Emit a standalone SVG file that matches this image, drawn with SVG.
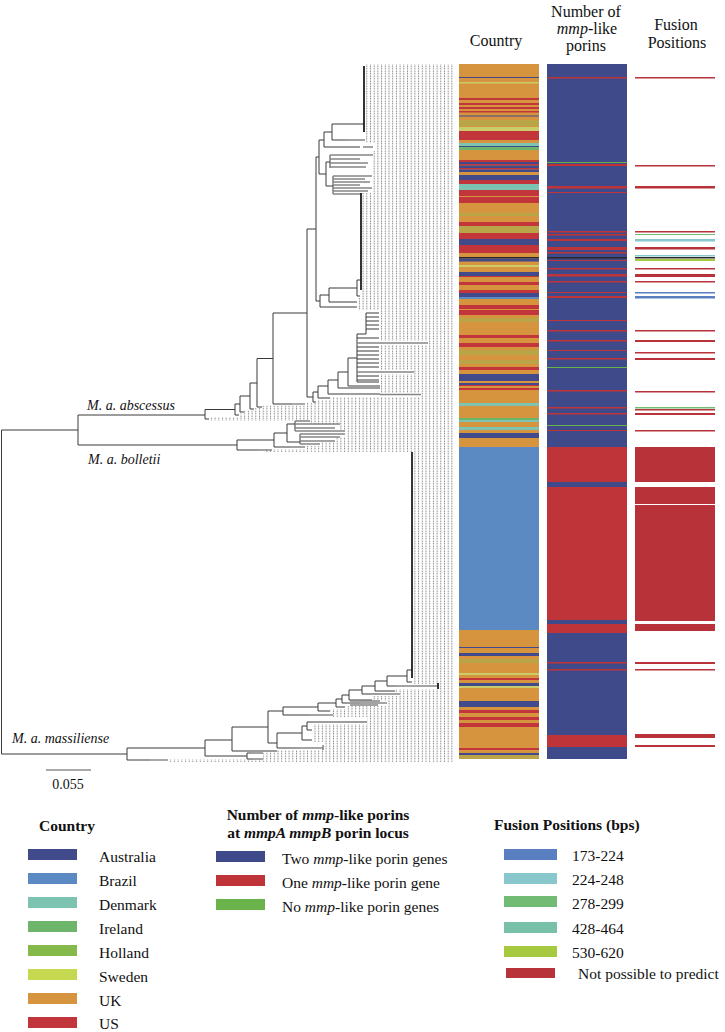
<svg xmlns="http://www.w3.org/2000/svg" width="725" height="1032" viewBox="0 0 725 1032">
<style>
text{font-family:"Liberation Serif","Times New Roman",serif;fill:#111}
.h{font-size:16px;text-anchor:middle}
.lab{font-size:14px;font-style:italic}
.lg{font-size:15.5px}
.lb{font-size:15.5px;font-weight:bold}
.e{stroke:#3a3a3a;stroke-width:1;fill:none}
.g{stroke:#858585;stroke-width:1.4;fill:none}
.p{stroke:#111;stroke-width:1.7;fill:none}
.U{fill:#d6943f}.R{fill:#c1353b}.A{fill:#414b8b}.B{fill:#5b89c2}.D{fill:#7cc3b2}.I{fill:#6db56a}.H{fill:#85b94a}.S{fill:#c8cd6a}.O{fill:#b9a447}.K{fill:#2a2a2a}
.m2{fill:#3f4a8b}.m1{fill:#bf3439}.m0{fill:#6ab24a}
.f1{fill:#5a7fc0}.f2{fill:#88c8cc}.f3{fill:#72bb75}.f4{fill:#78c0a8}.f5{fill:#a6c940}.fx{fill:#b8323a}
</style>
<defs>
<pattern id="dots" patternUnits="userSpaceOnUse" width="3.7" height="2.5">
<rect x="0" y="0.6" width="1" height="1.3" fill="#707070"/>
</pattern>
</defs>
<rect width="725" height="1032" fill="#fff"/>

<g id="headers">
<text class="h" x="496" y="46">Country</text>
<text class="h" x="586" y="17">Number of</text>
<text class="h" x="587" y="34"><tspan font-style="italic">mmp</tspan>-like</text>
<text class="h" x="586" y="51">porins</text>
<text class="h" x="676" y="30">Fusion</text>
<text class="h" x="677" y="48">Positions</text>
</g>

<g id="leaf-dots">
<path fill="url(#dots)" d="M455,64 H364 V133 H366 V143 H375 V151 H373 V193 H361 V292 H360 V298 H358 V304 H357 V310 H379 V341 H428 V345 H380 V370 H414 V374 H380 V393 H421 V397 H330 V400 H316 V403 H305 V405.5 H262 V408 H254 V410.5 H244 V413.5 H239 V417 H209 V421 H310 V425 H340 V430 H345 V437 H335 V442 H320 V446 H305 V449 H265 V452 H412 V684 H438 V689 H395 V692 H400 V696 H372 V701 H387 V706 H345 V709 H330 V713 H333 V717 H367 V724 H312 V742 H325 V750 H277 V752.5 H263 V759 H168 V762 H455 Z"/>
</g>

<g id="connectors">
<path class="e" d="M1.5,430 V754 M1.5,430 H78 M78,415 V445 M78,415 H205 M78,445 H237 M1.5,754 H127 M127,748 V760 M127,748 H205 M127,760 H150"/>
<path class="g" d="M150,760 H168"/>
<path class="e" d="M205,409.5 V419 M205,409.5 H235 M205,419 H209 M235,404 V415 M235,404 H240 M235,415 H239 M240,396 V412 M240,396 H250 M240,412 H244 M250,383 V409 M250,383 H257 M250,409 H254 M257,358.5 V407 M257,358.5 H273 M257,407 H262 M273,313 V404 M273,313 H307 M273,404 H292 M307,229 V397 M307,229 H316 M307,397 H313"/>
<path class="g" d="M292,404 H305"/>
<path class="e" d="M313,392 V402 M313,392 H318 M313,402 H316 M318,386 V398 M318,386 H328 M318,398 H330 M328,380 V394 M328,380 H338 M328,394 H380 M338,372 V388 M338,372 H348 M338,388 H380 M348,358 V386 M348,358 H357 M348,386 H380 M357,334 V382 M357,334 H366 M366,313 V334"/>
<path class="e" d="M366,313 H379 M366,317 H379 M366,321 H379 M366,325 H379 M366,329 H379 M357,338 H379 M357,347 H379 M357,351 H379 M357,355 H379 M357,359 H379 M357,363 H379 M357,367 H379 M357,376 H379 M357,380 H379 M357,382 H379"/>
<path class="g" d="M357,343 H428 M357,372 H414 M380,394.5 H421 M362,343 H379"/>
<path class="e" d="M316,157 V301 M316,157 H319 M316,301 H320 M320,295 V307 M320,295 H329 M320,307 H357 M329,288 V302 M329,288 H357 M329,302 H357 M357,280 V296 M357,280 H361 M357,296 H360"/>
<path class="e" d="M319,140 V174 M319,140 H324 M319,174 H326 M324,132 V147 M324,132 H332 M324,147 H360 M332,124 V140 M332,124 H364 M332,140 H347 M326,162 V186 M326,162 H330 M326,186 H333 M330,155 V168 M333,176 V194"/>
<path class="g" d="M363,147 H373 M347,140 H365 M330,155 H373 M330,159 H360 M330,163 H368 M330,167 H366 M333,176 H372 M333,179 H365 M333,182 H370 M333,185 H360 M333,188 H372 M333,191 H368 M333,194 H361"/>
<path class="p" d="M364,66 V132 M361,193 V290"/>
<path class="e" d="M237,440 V450 M237,440 H274 M237,450 H258 M274,433 V447 M274,433 H287 M274,447 H290 M287,424 V442 M287,424 H295 M287,442 H300 M295,421 V431 M300,434 V444"/>
<path class="g" d="M258,450 H272 M290,447 H305 M295,421 H310 M295,424 H340 M295,428 H335 M295,431 H345 M300,434 H345 M300,437 H340 M300,441 H335 M300,444 H320"/>
<path class="e" d="M205,740 V756 M205,740 H232 M205,756 H247 M247,753 V759 M247,753 H252 M247,759 H252 M232,727 V751 M232,727 H268 M232,751 H277 M268,711 V743 M268,711 H283 M268,743 H277 M277,733 V748 M277,733 H302 M277,748 H300 M323,745 V750 M302,726 V740 M302,726 H307 M302,740 H312 M307,722 V730 M307,722 H367 M307,730 H312"/>
<path class="g" d="M252,753 H263 M252,759 H263 M300,748 H323"/>
<path class="e" d="M283,707 V715 M283,707 H318 M283,715 H310 M318,703 V711 M318,703 H336 M318,711 H330 M336,699 V707 M336,699 H342 M336,707 H345 M342,695 V703 M342,695 H349 M342,703 H360 M349,690 V700 M349,690 H362 M349,700 H360 M362,686 V694 M362,686 H375 M362,694 H380 M375,681 V691 M375,681 H387 M375,691 H395 M387,676 V686 M387,676 H407 M387,686 H395 M407,670 V682 M407,670 H412 M407,682 H412"/>
<path class="g" d="M310,715 H333 M360,703 H387 M350,701 H380 M350,705 H378 M360,700 H372 M380,694 H400 M395,686 H438"/>
<path class="p" d="M438,683 V689 M412,452 V678"/>
</g>

<g id="clade-labels">
<text class="lab" x="87" y="410">M. a. abscessus</text>
<text class="lab" x="88" y="464">M. a. bolletii</text>
<text class="lab" x="12" y="743">M. a. massiliense</text>
</g>

<g id="scale-bar">
<path d="M46,770 H91" stroke="#555" stroke-width="1.2"/>
<text x="68" y="789" font-size="14" text-anchor="middle">0.055</text>
</g>

<g id="country-bar">
<rect class="U" x="459" y="64" width="80" height="695"/>
<rect class="A" x="459" y="77" width="80" height="1"/>
<rect class="S" x="459" y="82" width="80" height="1.5"/>
<rect class="R" x="459" y="98" width="80" height="2"/>
<rect class="R" x="459" y="103" width="80" height="2"/>
<rect class="R" x="459" y="107" width="80" height="2"/>
<rect class="R" x="459" y="111" width="80" height="1.5"/>
<rect class="A" x="459" y="115.5" width="80" height="1"/>
<rect class="O" x="459" y="120" width="80" height="6"/>
<rect class="S" x="459" y="127" width="80" height="4"/>
<rect class="R" x="459" y="131" width="80" height="9"/>
<rect class="D" x="459" y="143" width="80" height="3"/>
<rect class="A" x="459" y="146" width="80" height="1"/>
<rect class="I" x="459" y="147" width="80" height="3"/>
<rect class="R" x="459" y="160" width="80" height="2"/>
<rect class="A" x="459" y="162" width="80" height="2"/>
<rect class="R" x="459" y="164" width="80" height="1.5"/>
<rect class="A" x="459" y="165.5" width="80" height="2.5"/>
<rect class="R" x="459" y="168" width="80" height="1.5"/>
<rect class="A" x="459" y="169.5" width="80" height="2.5"/>
<rect class="A" x="459" y="175" width="80" height="5"/>
<rect class="R" x="459" y="180" width="80" height="4"/>
<rect class="D" x="459" y="184" width="80" height="6"/>
<rect class="R" x="459" y="190" width="80" height="6"/>
<rect class="R" x="459" y="197" width="80" height="6"/>
<rect class="O" x="459" y="213" width="80" height="3"/>
<rect class="R" x="459" y="222" width="80" height="4"/>
<rect class="O" x="459" y="226" width="80" height="7"/>
<rect class="R" x="459" y="233" width="80" height="6"/>
<rect class="A" x="459" y="239" width="80" height="6"/>
<rect class="R" x="459" y="245" width="80" height="8"/>
<rect class="K" x="459" y="257" width="80" height="1.5"/>
<rect class="A" x="459" y="258.5" width="80" height="3"/>
<rect class="S" x="459" y="265" width="80" height="2"/>
<rect class="A" x="459" y="272" width="80" height="4"/>
<rect class="R" x="459" y="276" width="80" height="1"/>
<rect class="R" x="459" y="282" width="80" height="3"/>
<rect class="R" x="459" y="290" width="80" height="3"/>
<rect class="A" x="459" y="293" width="80" height="4"/>
<rect class="B" x="459" y="297" width="80" height="2"/>
<rect class="R" x="459" y="305" width="80" height="4"/>
<rect class="R" x="459" y="310" width="80" height="5"/>
<rect class="O" x="459" y="318" width="80" height="4"/>
<rect class="R" x="459" y="335" width="80" height="3"/>
<rect class="R" x="459" y="343" width="80" height="4"/>
<rect class="O" x="459" y="350" width="80" height="5"/>
<rect class="O" x="459" y="360" width="80" height="4"/>
<rect class="R" x="459" y="367" width="80" height="3"/>
<rect class="A" x="459" y="374" width="80" height="7"/>
<rect class="A" x="459" y="383" width="80" height="2"/>
<rect class="R" x="459" y="385" width="80" height="1"/>
<rect class="R" x="459" y="388" width="80" height="2"/>
<rect class="D" x="459" y="403" width="80" height="3"/>
<rect class="I" x="459" y="418" width="80" height="2"/>
<rect class="D" x="459" y="420" width="80" height="2"/>
<rect class="D" x="459" y="427" width="80" height="3"/>
<rect class="A" x="459" y="433" width="80" height="5"/>
<rect class="B" x="459" y="447" width="80" height="183"/>
<rect class="A" x="459" y="647" width="80" height="1"/>
<rect class="A" x="459" y="653" width="80" height="3"/>
<rect class="O" x="459" y="659" width="80" height="4"/>
<rect class="S" x="459" y="673" width="80" height="2"/>
<rect class="R" x="459" y="678" width="80" height="2"/>
<rect class="A" x="459" y="683" width="80" height="3"/>
<rect class="S" x="459" y="686" width="80" height="2"/>
<rect class="A" x="459" y="701" width="80" height="6"/>
<rect class="R" x="459" y="710" width="80" height="3"/>
<rect class="R" x="459" y="717" width="80" height="3"/>
<rect class="R" x="459" y="723" width="80" height="4"/>
<rect class="R" x="459" y="748" width="80" height="2"/>
<rect class="A" x="459" y="753" width="80" height="2"/>
<rect class="O" x="459" y="755" width="80" height="4"/>
</g>

<g id="mmp-bar">
<rect class="m2" x="547" y="64" width="80" height="695"/>
<rect class="m1" x="547" y="77" width="80" height="1.5"/>
<rect class="m0" x="547" y="162" width="80" height="1"/>
<rect class="m1" x="547" y="164" width="80" height="2"/>
<rect class="m1" x="547" y="186" width="80" height="2.5"/>
<rect class="m1" x="547" y="192" width="80" height="1"/>
<rect class="m1" x="547" y="231" width="80" height="1.5"/>
<rect class="m1" x="547" y="234" width="80" height="1.5"/>
<rect class="m1" x="547" y="239" width="80" height="2"/>
<rect class="m1" x="547" y="247" width="80" height="3"/>
<rect class="m1" x="547" y="252" width="80" height="1.5"/>
<rect class="K" x="547" y="257" width="80" height="1.5"/>
<rect class="m1" x="547" y="260" width="80" height="1"/>
<rect class="m1" x="547" y="268" width="80" height="1.5"/>
<rect class="m1" x="547" y="274" width="80" height="2.5"/>
<rect class="m1" x="547" y="281" width="80" height="1.5"/>
<rect class="m1" x="547" y="292" width="80" height="1"/>
<rect class="m1" x="547" y="296" width="80" height="2"/>
<rect class="m1" x="547" y="320" width="80" height="1"/>
<rect class="m1" x="547" y="330" width="80" height="1.5"/>
<rect class="m1" x="547" y="340" width="80" height="1.5"/>
<rect class="m1" x="547" y="350" width="80" height="1"/>
<rect class="m1" x="547" y="358" width="80" height="1.5"/>
<rect class="m0" x="547" y="367" width="80" height="1"/>
<rect class="m1" x="547" y="390" width="80" height="1.5"/>
<rect class="m1" x="547" y="407" width="80" height="1.5"/>
<rect class="m1" x="547" y="413" width="80" height="1.5"/>
<rect class="m0" x="547" y="425" width="80" height="1"/>
<rect class="m1" x="547" y="430" width="80" height="1"/>
<rect class="m1" x="547" y="447" width="80" height="35"/>
<rect class="m1" x="547" y="487" width="80" height="133"/>
<rect class="m1" x="547" y="624" width="80" height="9"/>
<rect class="m1" x="547" y="662" width="80" height="1.5"/>
<rect class="m1" x="547" y="669" width="80" height="1.5"/>
<rect class="m1" x="547" y="735" width="80" height="12"/>
</g>

<g id="fusion-bar">
<rect class="fx" x="635" y="77" width="80" height="1.5"/>
<rect class="fx" x="635" y="165" width="80" height="1.5"/>
<rect class="fx" x="635" y="186" width="80" height="2.5"/>
<rect class="fx" x="635" y="231" width="80" height="1.5"/>
<rect class="f3" x="635" y="234" width="80" height="1"/>
<rect class="f2" x="635" y="239" width="80" height="2.5"/>
<rect class="fx" x="635" y="247" width="80" height="2.5"/>
<rect class="f2" x="635" y="255" width="80" height="1.5"/>
<rect class="K" x="635" y="257" width="80" height="1.5"/>
<rect class="f5" x="635" y="259" width="80" height="2"/>
<rect class="fx" x="635" y="268" width="80" height="1.5"/>
<rect class="fx" x="635" y="274" width="80" height="3"/>
<rect class="fx" x="635" y="281" width="80" height="1.5"/>
<rect class="f1" x="635" y="292" width="80" height="1.5"/>
<rect class="f1" x="635" y="296" width="80" height="2.5"/>
<rect class="fx" x="635" y="330" width="80" height="1.5"/>
<rect class="fx" x="635" y="340" width="80" height="2"/>
<rect class="fx" x="635" y="352" width="80" height="1.5"/>
<rect class="fx" x="635" y="358" width="80" height="2"/>
<rect class="fx" x="635" y="391" width="80" height="1.5"/>
<rect class="f3" x="635" y="407" width="80" height="1.5"/>
<rect class="fx" x="635" y="409" width="80" height="1.5"/>
<rect class="fx" x="635" y="413" width="80" height="2"/>
<rect class="fx" x="635" y="430" width="80" height="1.5"/>
<rect class="fx" x="635" y="447" width="80" height="35"/>
<rect class="fx" x="635" y="487" width="80" height="17"/>
<rect class="fx" x="635" y="505" width="80" height="116"/>
<rect class="fx" x="635" y="624" width="80" height="7"/>
<rect class="fx" x="635" y="662" width="80" height="2"/>
<rect class="fx" x="635" y="669" width="80" height="1.5"/>
<rect class="fx" x="635" y="734" width="80" height="4"/>
<rect class="fx" x="635" y="745" width="80" height="2"/>
</g>

<g id="legend-country">
<text class="lb" x="39" y="831">Country</text>
<rect class="A" x="28" y="849" width="49" height="11"/><text class="lg" x="99" y="862">Australia</text>
<rect class="B" x="28" y="873" width="49" height="11"/><text class="lg" x="99" y="886">Brazil</text>
<rect class="D" x="28" y="897" width="49" height="11"/><text class="lg" x="99" y="910">Denmark</text>
<rect class="I" x="28" y="921" width="49" height="11"/><text class="lg" x="99" y="934">Ireland</text>
<rect class="H" x="28" y="945" width="49" height="11"/><text class="lg" x="99" y="958">Holland</text>
<rect fill="#c6d84f" x="28" y="969" width="49" height="11"/><text class="lg" x="99" y="982">Sweden</text>
<rect class="U" x="28" y="993" width="49" height="11"/><text class="lg" x="99" y="1006">UK</text>
<rect class="R" x="28" y="1017" width="49" height="11"/><text class="lg" x="99" y="1029">US</text>
</g>

<g id="legend-mmp">
<text class="lb" x="318" y="820" text-anchor="middle">Number of <tspan font-style="italic">mmp</tspan>-like porins</text>
<text class="lb" x="318" y="838" text-anchor="middle">at <tspan font-style="italic">mmpA mmpB</tspan> porin locus</text>
<rect class="m2" x="216" y="851" width="49" height="11"/><text class="lg" x="282" y="864">Two <tspan font-style="italic">mmp</tspan>-like porin genes</text>
<rect class="m1" x="216" y="875" width="49" height="11"/><text class="lg" x="282" y="888">One <tspan font-style="italic">mmp</tspan>-like porin gene</text>
<rect class="m0" x="216" y="899" width="49" height="11"/><text class="lg" x="282" y="912">No <tspan font-style="italic">mmp</tspan>-like porin genes</text>
</g>

<g id="legend-fusion">
<text class="lb" x="494" y="830">Fusion Positions (bps)</text>
<rect class="f1" x="504" y="849" width="53" height="11"/><text class="lg" x="572" y="861">173-224</text>
<rect class="f2" x="504" y="873" width="53" height="11"/><text class="lg" x="572" y="885">224-248</text>
<rect class="f3" x="504" y="896" width="53" height="11"/><text class="lg" x="572" y="909">278-299</text>
<rect class="f4" x="504" y="922" width="53" height="11"/><text class="lg" x="572" y="934">428-464</text>
<rect class="f5" x="504" y="946" width="53" height="11"/><text class="lg" x="572" y="958">530-620</text>
<rect class="fx" x="506" y="968" width="49" height="10"/><text class="lg" x="578" y="979">Not possible to predict</text>
</g>
</svg>
